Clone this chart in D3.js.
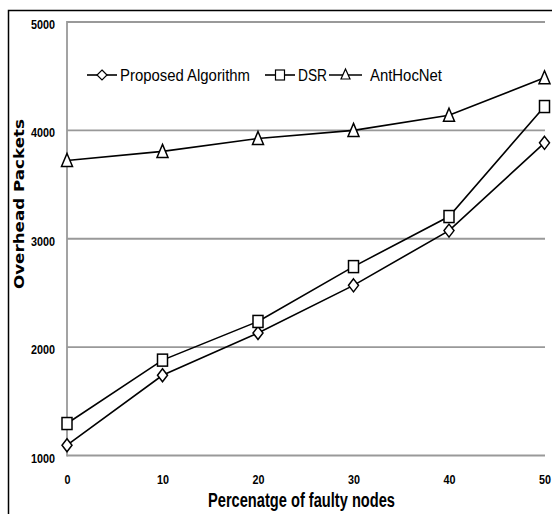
<!DOCTYPE html>
<html><head><meta charset="utf-8">
<script src="https://cdn.jsdelivr.net/npm/d3@7"></script>
<style>body{margin:0;background:#fff}svg{display:block}</style>
</head><body>
<script>
const xValues = [0, 10, 20, 30, 40, 50];
const yTicks = [1000, 2000, 3000, 4000, 5000];
const seriesNames = ["Proposed Algorithm", "DSR", "AntHocNet"];
const proposed = [1095, 1740, 2130, 2570, 3075, 3885];
const dsr = [1295, 1880, 2237, 2743, 3205, 4220];
const antHocNet = [3722, 3806, 3925, 4000, 4140, 4485];
const xTitle = "Percenatge of faulty nodes";
const yTitle = "Overhead Packets";

const W = 552, H = 514;
const svg = d3.select("body").append("svg").attr("width", W).attr("height", H);
const L = 67, R = 544.5, T = 22, B = 455.5;
const x = d3.scaleLinear().domain([0, 50]).range([L, R]);
const y = d3.scaleLinear().domain([1000, 5000]).range([B, T]);
const FONT = "'Liberation Sans',Arial,sans-serif";

// squeeze text to a measured width (reference font is a narrow one)
function squeeze(sel, perChar) {
  sel.each(function() {
    const t = d3.select(this);
    const n = t.text().length;
    t.attr("textLength", perChar(t.text(), n)).attr("lengthAdjust", "spacingAndGlyphs");
  });
}

// outer border
svg.append("path").attr("d", `M8.5,${H} V10.5 H${W}`).attr("fill","none").attr("stroke","#000").attr("stroke-width",1.5);

// gridlines
svg.append("g").selectAll("line").data(yTicks).join("line")
  .attr("x1", L).attr("x2", R+0.5).attr("y1", d=>y(d)).attr("y2", d=>y(d))
  .attr("stroke","#999").attr("stroke-width",1.8);
// left axis line
svg.append("line").attr("x1",L).attr("x2",L).attr("y1",T-0.9).attr("y2",B+0.9).attr("stroke","#999").attr("stroke-width",1.8);

// y ticks
const yAxis = d3.axisLeft(y).tickValues(yTicks).tickSize(0).tickPadding(12).tickFormat(d3.format("d"));
const gy = svg.append("g").attr("transform",`translate(${L},0)`).call(yAxis);
gy.select(".domain").remove();
gy.selectAll("text").attr("font-family",FONT).attr("font-weight","bold").attr("font-size",13).attr("fill","#000").attr("dy","0.5em");
squeeze(gy.selectAll("text"), (s,n)=>n*6);
// x ticks
const xAxis = d3.axisBottom(x).tickValues(xValues).tickSize(0).tickPadding(28).tickFormat(d3.format("d"));
const gx = svg.append("g").attr("transform",`translate(0,${B})`).call(xAxis);
gx.select(".domain").remove();
gx.selectAll("text").attr("font-family",FONT).attr("font-weight","bold").attr("font-size",13.5).attr("fill","#000").attr("dy","0");
squeeze(gx.selectAll("text"), (s,n)=>n*6);

// titles
svg.append("text").attr("x",301.5).attr("y",507).attr("text-anchor","middle")
  .attr("font-family",FONT).attr("font-weight","bold").attr("font-size",20).text(xTitle)
  .attr("textLength",187).attr("lengthAdjust","spacingAndGlyphs");
svg.append("text").attr("transform","translate(24,204) rotate(-90)").attr("text-anchor","middle")
  .attr("font-family","'DejaVu Sans',Verdana,sans-serif").attr("font-weight","bold").attr("font-size",14).text(yTitle)
  .attr("textLength",170).attr("lengthAdjust","spacingAndGlyphs");

// markers
function marker(g, type, cx, cy) {
  if (type === 0) {
    g.append("path").attr("d",`M${cx},${cy-6.5} L${cx+5},${cy} L${cx},${cy+6.5} L${cx-5},${cy} Z`);
  } else if (type === 1) {
    g.append("rect").attr("x",cx-5).attr("y",cy-6).attr("width",10).attr("height",12);
  } else {
    g.append("path").attr("d",`M${cx},${cy-7} L${cx+5.5},${cy+6} L${cx-5.5},${cy+6} Z`);
  }
}
const allSeries = [proposed, dsr, antHocNet];
const line = d3.line().x((d,i)=>x(xValues[i])).y(d=>y(d));
allSeries.forEach((vals, si) => {
  svg.append("path").datum(vals).attr("d", line).attr("fill","none").attr("stroke","#000").attr("stroke-width",1.6);
  const g = svg.append("g").attr("fill","#fff").attr("stroke","#000").attr("stroke-width",1.5);
  vals.forEach((v,i)=>marker(g, si, x(xValues[i]), y(v)));
});

// legend
const legendItems = [{x:87, tx:120, w:130}, {x:265, tx:298, w:29}, {x:329, tx:370, w:72}];
const ly = 75;
legendItems.forEach((it, si) => {
  const lw = si === 2 ? 33 : 30;
  svg.append("line").attr("x1",it.x).attr("x2",it.x+lw).attr("y1",ly).attr("y2",ly).attr("stroke","#000").attr("stroke-width",1.6);
  const g = svg.append("g").attr("fill","#fff").attr("stroke","#000").attr("stroke-width",1.2);
  if (si === 2) {
    const cx = it.x+lw/2;
    g.append("path").attr("d",`M${cx},${ly-6} L${cx+4.5},${ly+4} L${cx-4.5},${ly+4} Z`);
  } else if (si === 1) {
    const cx = it.x+15;
    g.append("rect").attr("x",cx-4.5).attr("y",ly-5).attr("width",9).attr("height",10);
  } else {
    const cx = it.x+15;
    g.append("path").attr("d",`M${cx},${ly-5} L${cx+5},${ly} L${cx},${ly+5} L${cx-5},${ly} Z`);
  }
  svg.append("text").attr("x",it.tx).attr("y",ly).attr("dy","0.36em")
    .attr("font-family",FONT).attr("font-size",16).attr("fill","#000").text(seriesNames[si])
    .attr("textLength",it.w).attr("lengthAdjust","spacingAndGlyphs");
});
</script>
</body></html>
